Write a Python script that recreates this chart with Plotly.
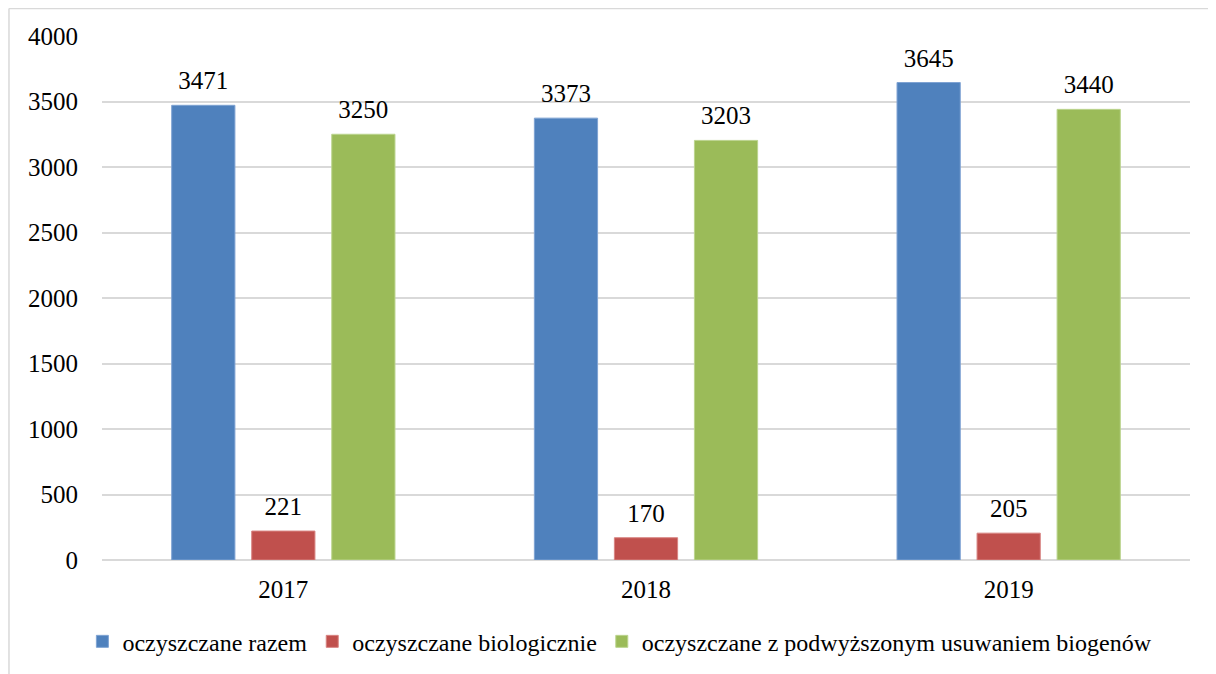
import plotly.graph_objects as go

# data
years = ["2017", "2018", "2019"]
razem = [3471, 3373, 3645]
biologicznie = [221, 170, 205]
biogeny = [3250, 3203, 3440]

series_names = [
    "oczyszczane razem",
    "oczyszczane biologicznie",
    "oczyszczane z podwyższonym usuwaniem biogenów",
]
y_ticks = [0, 500, 1000, 1500, 2000, 2500, 3000, 3500, 4000]

COLORS = ["#4F81BD", "#C0504D", "#9BBB59"]
EDGES = ["#7FA3D3", "#D88482", "#BBD48E"]
FONT = "Liberation Serif"

fig = go.Figure()
for name, vals, col, edge in zip(series_names, [razem, biologicznie, biogeny], COLORS, EDGES):
    fig.add_trace(
        go.Bar(
            x=years,
            y=vals,
            name=name,
            marker=dict(color=col, line=dict(color=edge, width=1)),
        )
    )

# value labels: text-only scatter traces grouped like the bars so they sit above each bar
for name, vals in zip(series_names, [razem, biologicznie, biogeny]):
    fig.add_trace(
        go.Scatter(
            x=years,
            y=vals,
            mode="markers+text",
            text=[str(v) for v in vals],
            textposition="top center",
            textfont=dict(family=FONT, size=25, color="#000000"),
            marker=dict(size=14, color="rgba(0,0,0,0)"),
            showlegend=False,
            hoverinfo="skip",
            cliponaxis=False,
        )
    )

fig.update_layout(
    width=1216,
    height=674,
    paper_bgcolor="white",
    plot_bgcolor="white",
    font=dict(family=FONT, size=25, color="#000000"),
    barmode="group",
    bargap=0.338,
    bargroupgap=0.21,
    scattermode="group",
    scattergap=0.338,
    # page body adds an 8px offset, so margins are shifted to compensate
    margin=dict(l=94, r=34, t=28, b=122, autoexpand=False),
    xaxis=dict(
        showgrid=False,
        showline=False,
        ticks="",
        ticklabelstandoff=12,
        tickfont=dict(family=FONT, size=25),
    ),
    yaxis=dict(
        range=[0, 4000],
        tickvals=y_ticks,
        showgrid=True,
        gridcolor="#D9D9D9",
        gridwidth=1.5,
        zeroline=True,
        zerolinecolor="#D9D9D9",
        zerolinewidth=1.5,
        ticks="",
        ticklabelstandoff=23,
        tickfont=dict(family=FONT, size=25),
    ),
    showlegend=True,
    legend=dict(
        orientation="h",
        x=0.476,
        xanchor="center",
        y=-0.156,
        yanchor="middle",
        font=dict(family=FONT, size=24),
        itemwidth=30,
        tracegroupgap=0,
    ),
    shapes=[
        # outer chart frame (left and top edges only visible)
        dict(type="line", xref="paper", yref="paper", x0=-0.0855, x1=-0.0855, y0=1.0525, y1=-0.3,
             line=dict(color="#D9D9D9", width=1.5)),
        dict(type="line", xref="paper", yref="paper", x0=-0.0855, x1=1.04, y0=1.0525, y1=1.0525,
             line=dict(color="#D9D9D9", width=1.5)),
    ],
)

fig.write_html("out.html")
